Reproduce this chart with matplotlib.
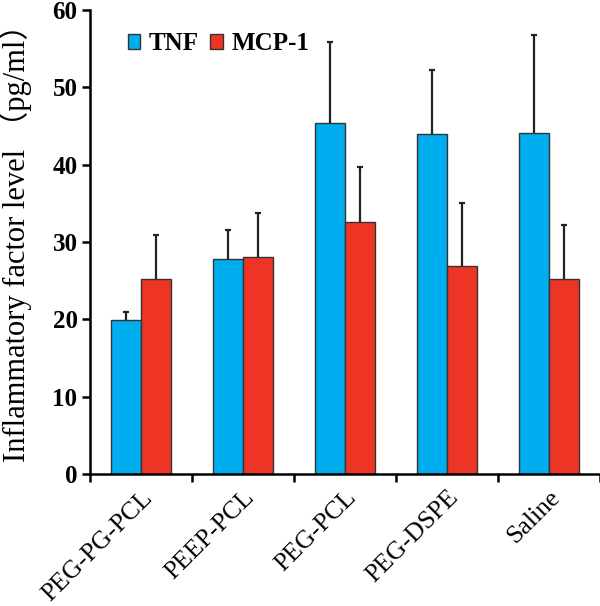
import numpy as np
import matplotlib.pyplot as plt
from matplotlib.patches import Patch

groups = ["PEG-PG-PCL", "PEEP-PCL", "PEG-PCL", "PEG-DSPE", "Saline"]
tnf = [19.9, 27.8, 45.4, 43.9, 44.1]
tnf_err = [1.1, 3.8, 10.4, 8.4, 12.7]
mcp = [25.2, 28.1, 32.6, 26.9, 25.2]
mcp_err = [5.7, 5.7, 7.1, 8.2, 7.0]
yticks = [0, 10, 20, 30, 40, 50, 60]

TNF_COLOR = "#00AEEF"
MCP_COLOR = "#EE3424"
SERIF = ["Liberation Serif", "Noto Sans CJK SC"]


def main() -> None:
    plt.rcParams["font.family"] = SERIF
    fig = plt.figure(figsize=(6.0, 6.06), dpi=100)
    ax = fig.add_axes([0.15, 0.218, 0.85, 0.7655])

    x = np.arange(len(groups))
    w = 0.29
    err_kw = dict(ecolor="#222222", elinewidth=1.6, capsize=2.4, capthick=1.6)
    for offset, vals, errs, color in ((-w / 2, tnf, tnf_err, TNF_COLOR),
                                      (w / 2, mcp, mcp_err, MCP_COLOR)):
        bars = ax.bar(x + offset, vals, w, color=color, edgecolor="#333333",
                      linewidth=1.0, yerr=[np.zeros(len(vals)), errs],
                      error_kw=err_kw, zorder=2)
        # only the upper half of the error bar is drawn
        caplines = bars.errorbar.lines[1]
        caplines[0].set_visible(False)

    ax.set_xlim(-0.5, len(groups) - 0.5)
    ax.set_ylim(0, 60)
    ax.set_yticks(yticks)
    ax.set_yticklabels([str(t) for t in yticks], fontsize=18, fontweight="bold")
    ax.set_xticks(np.arange(-0.5, len(groups) + 0.5, 1.0))
    ax.set_xticklabels([])
    ax.set_xticks(x, minor=True)
    ax.set_xticklabels(groups, minor=True, rotation=45, ha="right",
                       rotation_mode="anchor", fontsize=18.5)
    ax.tick_params(axis="x", which="minor", length=0, pad=9)
    ax.tick_params(axis="both", which="major", direction="out", length=6, width=1.8)
    ax.tick_params(axis="y", pad=3)

    for side in ("top", "right"):
        ax.spines[side].set_visible(False)
    for side in ("left", "bottom"):
        ax.spines[side].set_linewidth(1.8)

    ax.set_ylabel("Inflammatory factor level （pg/ml）", fontsize=22)
    ax.yaxis.set_label_coords(-0.114, 0.513)

    handles = [Patch(facecolor=TNF_COLOR, edgecolor="#333333", label="TNF"),
               Patch(facecolor=MCP_COLOR, edgecolor="#333333", label="MCP-1")]
    ax.legend(handles=handles, loc="upper left", bbox_to_anchor=(0.03, 1.0),
              ncol=2, frameon=False, handlelength=0.5, handleheight=0.5,
              handletextpad=0.35, columnspacing=0.45,
              prop={"family": SERIF, "weight": "bold", "size": 18})

    fig.savefig("out.png", dpi=100)
    plt.close(fig)


if __name__ == "__main__":
    main()
